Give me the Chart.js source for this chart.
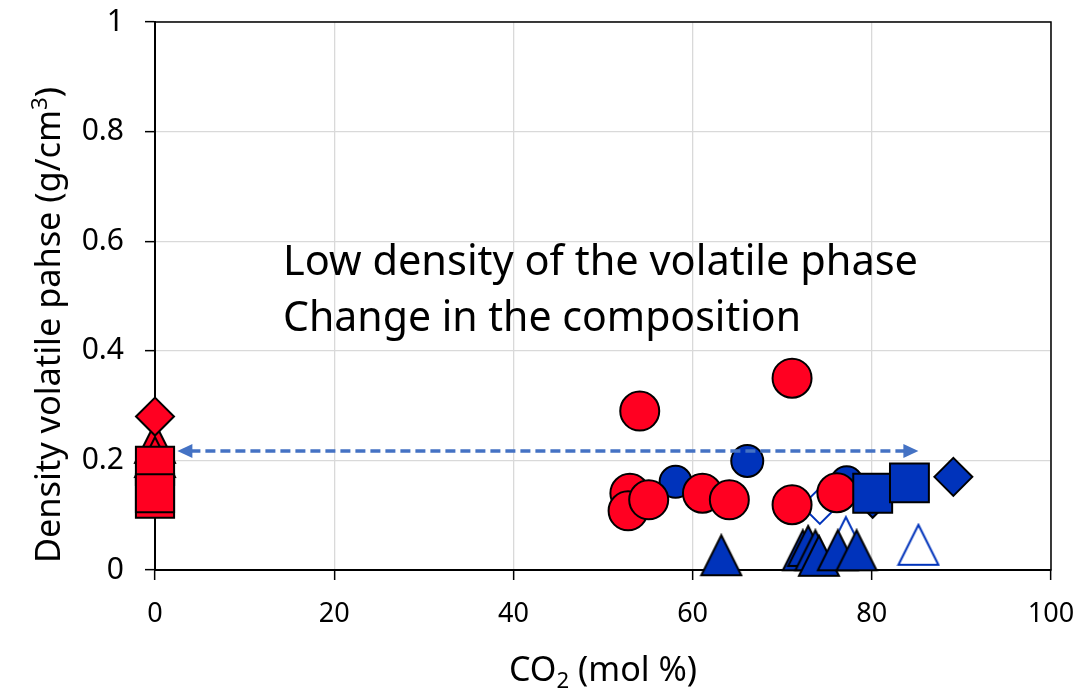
<!DOCTYPE html>
<html>
<head>
<meta charset="utf-8">
<script src="https://cdn.jsdelivr.net/npm/chart.js@4.4.1/dist/chart.umd.min.js"></script>
<style>
  html, body { margin: 0; padding: 0; background: #fff; }
  #wrap { width: 1089px; height: 692px; position: relative; }
</style>
</head>
<body>
<div id="wrap"><canvas id="densityChart"></canvas></div>
<script>
// Axis ticks
const xTicks = [0, 20, 40, 60, 80, 100];
const yTicks = [0, 0.2, 0.4, 0.6, 0.8, 1];

// Red series
const redDiamondX = [0];
const redDiamondY = [0.28];
const redTriangleX = [0, 0];
const redTriangleY = [0.232, 0.206];
const redSquareX = [0, 0, 0];
const redSquareY = [0.19, 0.13, 0.14];
const redCircleX = [54.1, 71.1, 53.0, 52.8, 55.1, 61.1, 64.1, 71.1, 76.1];
const redCircleY = [0.29, 0.35, 0.14, 0.108, 0.128, 0.14, 0.128, 0.119, 0.141];

// Blue series
const blueCircleX = [58.1, 66.1, 77.2];
const blueCircleY = [0.161, 0.199, 0.16];
const blueSquareX = [80.1, 84.2];
const blueSquareY = [0.14, 0.159];
const blueDiamondX = [89.1, 80.1];
const blueDiamondY = [0.17, 0.13];
const blueOpenDiamondX = [74.2];
const blueOpenDiamondY = [0.117];
const blueTriangleX = [63.2, 72.3, 72.9, 73.7, 74.1, 76.2, 78.3];
const blueTriangleY = [0.027, 0.036, 0.044, 0.036, 0.026, 0.036, 0.036];
const blueOpenTriangleX = [85.2, 77.1];
const blueOpenTriangleY = [0.046, 0.06];

// Dashed double arrow (data coords)
const arrowX = [2.5, 85.2];
const arrowY = [0.217, 0.217];

// Texts
const noteLines = ['Low density of the volatile phase', 'Change in the composition'];

const RED = '#FF0021';
const BLUE = '#0033BB';
const FONT = "'Noto Sans', 'Open Sans', sans-serif";

function pts(xs, ys) {
  return xs.map((x, i) => ({ x: x, y: ys[i] }));
}

// Excel-like triangle marker (box centred)
function triangleMarker(fill, stroke, lw, size) {
  const c = document.createElement('canvas');
  c.width = size + lw * 2;
  c.height = size + lw * 2;
  const ctx = c.getContext('2d');
  ctx.beginPath();
  ctx.moveTo(c.width / 2, lw);
  ctx.lineTo(c.width - lw, c.height - lw);
  ctx.lineTo(lw, c.height - lw);
  ctx.closePath();
  ctx.fillStyle = fill;
  ctx.fill();
  ctx.lineWidth = lw;
  ctx.strokeStyle = stroke;
  ctx.stroke();
  return c;
}

function series(data, style, radius, fill, stroke, lw) {
  return {
    data: data,
    pointStyle: style,
    pointRadius: radius,
    pointHoverRadius: radius,
    pointBackgroundColor: fill,
    pointBorderColor: stroke,
    pointBorderWidth: lw,
    showLine: false,
    clip: false
  };
}

// Draw text made of parts (sub/superscript), squeezed to a target width
function drawRich(ctx, parts, x, y, width, size, align) {
  const widths = parts.map(p => {
    ctx.font = (p.sub || p.sup ? size * 0.65 : size) + 'px ' + FONT;
    return ctx.measureText(p.t).width;
  });
  const total = widths.reduce((a, b) => a + b, 0);
  const sx = width / total;
  ctx.save();
  ctx.translate(x, y);
  ctx.scale(sx, 1);
  let cx = align === 'center' ? -total / 2 : 0;
  ctx.textAlign = 'left';
  ctx.textBaseline = 'alphabetic';
  ctx.fillStyle = '#000';
  parts.forEach((p, i) => {
    ctx.font = (p.sub || p.sup ? size * 0.65 : size) + 'px ' + FONT;
    let dy = 0;
    if (p.sub) dy = size * 0.2;
    if (p.sup) dy = -size * 0.38;
    ctx.fillText(p.t, cx, dy);
    cx += widths[i];
  });
  ctx.restore();
}

const framePlugin = {
  id: 'frame',
  beforeDatasetsDraw(chart) {
    const a = chart.chartArea;
    const ctx = chart.ctx;
    ctx.save();
    ctx.strokeStyle = '#000';
    ctx.lineWidth = 1.5;
    ctx.strokeRect(a.left, a.top, a.right - a.left, a.bottom - a.top);
    ctx.restore();
  }
};

const arrowPlugin = {
  id: 'arrow',
  afterDatasetsDraw(chart) {
    const xs = chart.scales.x, ys = chart.scales.y;
    const ctx = chart.ctx;
    const x1 = xs.getPixelForValue(arrowX[0]);
    const x2 = xs.getPixelForValue(arrowX[1]);
    const y1 = ys.getPixelForValue(arrowY[0]);
    const head = 15, half = 7;
    ctx.save();
    ctx.strokeStyle = '#4472C4';
    ctx.fillStyle = '#4472C4';
    ctx.lineWidth = 3.5;
    ctx.setLineDash([10, 5]);
    ctx.beginPath();
    ctx.moveTo(x1 + head - 2, y1);
    ctx.lineTo(x2 - head + 2, y1);
    ctx.stroke();
    ctx.setLineDash([]);
    ctx.beginPath();
    ctx.moveTo(x1, y1);
    ctx.lineTo(x1 + head, y1 - half);
    ctx.lineTo(x1 + head, y1 + half);
    ctx.closePath();
    ctx.fill();
    ctx.beginPath();
    ctx.moveTo(x2, y1);
    ctx.lineTo(x2 - head, y1 - half);
    ctx.lineTo(x2 - head, y1 + half);
    ctx.closePath();
    ctx.fill();
    ctx.restore();
  }
};

const textPlugin = {
  id: 'texts',
  afterDraw(chart) {
    const ctx = chart.ctx;
    const a = chart.chartArea;
    // annotation
    drawRich(ctx, [{ t: noteLines[0] }], 283, 275, 635, 42, 'left');
    drawRich(ctx, [{ t: noteLines[1] }], 283, 331, 518, 42, 'left');
    // x title
    drawRich(ctx, [{ t: 'CO' }, { t: '2', sub: true }, { t: ' (mol %)' }],
      (a.left + a.right) / 2, 681, 188, 34, 'center');
    // y title
    ctx.save();
    ctx.translate(60, 325);
    ctx.rotate(-Math.PI / 2);
    drawRich(ctx, [{ t: 'Density volatile pahse (g/cm' }, { t: '3', sup: true }, { t: ')' }],
      0, 0, 476, 34, 'center');
    ctx.restore();
  }
};

const triFilledBlue = triangleMarker(BLUE, '#000', 2, 40);
const triFilledRed = triangleMarker(RED, '#000', 2, 40);
const triOpenBlue = triangleMarker('#fff', BLUE, 2, 40);

function noPad(s) {
  s.paddingTop = 0;
  s.paddingBottom = 0;
  s.paddingLeft = 0;
  s.paddingRight = 0;
}

new Chart(document.getElementById('densityChart'), {
  type: 'scatter',
  data: {
    datasets: [
      series(pts(blueSquareX, blueSquareY), 'rect', 27.5, BLUE, '#000', 2),
      series(pts(redCircleX, redCircleY), 'circle', 19.5, RED, '#000', 2),
      series(pts(blueCircleX, blueCircleY), 'circle', 16, BLUE, '#000', 2),
      series(pts(blueDiamondX, blueDiamondY), 'rectRot', 19, BLUE, '#000', 2),
      series(pts(blueTriangleX, blueTriangleY), triFilledBlue, 20, BLUE, '#000', 2),
      series(pts(blueOpenTriangleX, blueOpenTriangleY), triOpenBlue, 20, '#fff', BLUE, 2),
      series(pts(blueOpenDiamondX, blueOpenDiamondY), 'rectRot', 18, '#fff', BLUE, 2),
      series(pts(redDiamondX, redDiamondY), 'rectRot', 19, RED, '#000', 2),
      series(pts(redSquareX, redSquareY), 'rect', 27, RED, '#000', 2),
      series(pts(redTriangleX, redTriangleY), triFilledRed, 20, RED, '#000', 2)
    ]
  },
  options: {
    responsive: true,
    maintainAspectRatio: false,
    animation: false,
    events: [],
    layout: { autoPadding: false, padding: { top: 22, right: 38, left: 0, bottom: 0 } },
    plugins: {
      legend: { display: false },
      tooltip: { enabled: false }
    },
    scales: {
      x: {
        type: 'linear',
        min: xTicks[0],
        max: xTicks[xTicks.length - 1],
        afterBuildTicks: s => { s.ticks = xTicks.map(v => ({ value: v })); },
        afterFit: s => { s.height = 122; noPad(s); },
        grid: { color: '#D9D9D9', lineWidth: 1.3, tickColor: '#000', tickWidth: 1.5, tickLength: 10 },
        border: { color: '#000', width: 2 },
        ticks: {
          color: '#000', padding: 18, maxRotation: 0,
          font: { family: FONT, size: 27 },
          callback: v => String(v)
        }
      },
      y: {
        type: 'linear',
        min: yTicks[0],
        max: yTicks[yTicks.length - 1],
        afterBuildTicks: s => { s.ticks = yTicks.map(v => ({ value: v })); },
        afterFit: s => { s.width = 155; noPad(s); },
        grid: { color: '#D9D9D9', lineWidth: 1.3, tickColor: '#000', tickWidth: 1.5, tickLength: 10 },
        border: { color: '#000', width: 2 },
        ticks: {
          color: '#000', padding: 21,
          font: { family: FONT, size: 30 },
          callback: v => String(v)
        }
      }
    }
  },
  plugins: [framePlugin, arrowPlugin, textPlugin]
});
</script>
</body>
</html>
